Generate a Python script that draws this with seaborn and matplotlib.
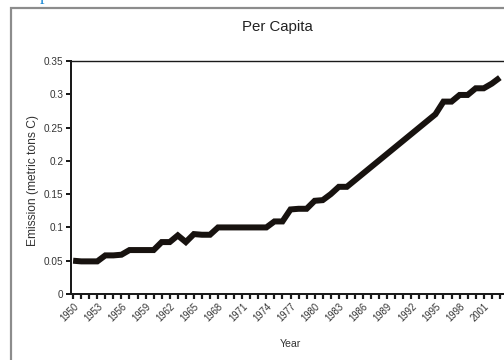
import matplotlib
matplotlib.use("Agg")
import matplotlib.pyplot as plt
from matplotlib.patches import Rectangle
from matplotlib.ticker import FixedLocator, FixedFormatter
import seaborn as sns
import pandas as pd

# Per-capita emission series (metric tons of carbon per person)
years = [1950, 1951, 1952, 1953, 1954, 1955, 1956, 1957, 1958, 1959,
         1960, 1961, 1962, 1963, 1964, 1965, 1966, 1967, 1968, 1969,
         1970, 1971, 1972, 1973, 1974, 1975, 1976, 1977, 1978, 1979,
         1980, 1981, 1982, 1983, 1984, 1995, 1996, 1997, 1998, 1999,
         2000, 2001, 2002, 2003]
emission = [0.050, 0.049, 0.049, 0.049, 0.058, 0.058, 0.059, 0.066, 0.066, 0.066,
            0.066, 0.078, 0.078, 0.088, 0.078, 0.090, 0.089, 0.089, 0.100, 0.100,
            0.100, 0.100, 0.100, 0.100, 0.100, 0.109, 0.109, 0.127, 0.128, 0.128,
            0.140, 0.141, 0.150, 0.161, 0.161, 0.270, 0.289, 0.289, 0.299, 0.299,
            0.309, 0.309, 0.316, 0.325]

tick_years = list(range(1950, 2007))
label_years = list(range(1950, 2002, 3))
y_ticks = [0, 0.05, 0.1, 0.15, 0.2, 0.25, 0.3, 0.35]
y_labels = ["0", "0.05", "0.1", "0.15", "0.2", "0.25", "0.3", "0.35"]

df = pd.DataFrame({"Year": years, "Emission": emission})

sns.set_theme(style="white")
plt.rcParams["font.family"] = ["Liberation Sans", "DejaVu Sans"]

W, H = 504, 360
fig = plt.figure(figsize=(W / 72, H / 72), dpi=72)
fig.patch.set_facecolor("white")

# outer gray frame
fig.patches.append(Rectangle((11 / W, -0.2), 1.5, (H - 8) / H + 0.2,
                             transform=fig.transFigure, fill=False,
                             edgecolor="#8c8c8c", linewidth=2.2, zorder=0))

# partial blue heading glyph at the very top
fig.text(44 / W, 1 + 0.5 / H, "p", color="#1b8ad6", fontsize=18,
         family=["Liberation Serif", "DejaVu Serif"], ha="center", va="baseline")

left_px, right_px, top_px, bot_px = 70.7, 524.0, 61.0, 294.0
ax = fig.add_axes([left_px / W, (H - bot_px) / H,
                   (right_px - left_px) / W, (bot_px - top_px) / H])

sns.lineplot(data=df, x="Year", y="Emission", ax=ax, color="#17120f",
             linewidth=6, solid_capstyle="butt", solid_joinstyle="miter")

ax.set_xlim(1949.7, 2006.0)
ax.set_ylim(0, 0.35)

ax.xaxis.set_major_locator(FixedLocator(tick_years))
ax.xaxis.set_major_formatter(FixedFormatter(
    [str(y) if y in label_years else "" for y in tick_years]))
ax.yaxis.set_major_locator(FixedLocator(y_ticks))
ax.yaxis.set_major_formatter(FixedFormatter(y_labels))

ax.tick_params(axis="x", direction="out", length=5, width=2.2, color="#1a1a1a",
               labelsize=9.5, labelcolor="#333333", pad=2, bottom=True)
ax.tick_params(axis="y", direction="out", length=5, width=2, color="#1a1a1a",
               labelsize=10, labelcolor="#333333", pad=2, left=True)
for lab in ax.get_xticklabels():
    lab.set_rotation(45)
    lab.set_ha("right")
    lab.set_rotation_mode("anchor")

for side in ["left", "bottom"]:
    ax.spines[side].set_linewidth(2)
    ax.spines[side].set_color("#1a1a1a")
ax.spines["top"].set_linewidth(1.4)
ax.spines["top"].set_color("#1a1a1a")
ax.spines["right"].set_visible(False)
ax.grid(False)

ax.set_xlabel("")
ax.set_ylabel("")
fig.text(290 / W, 1 - 344 / H, "Year", fontsize=10.5, color="#333333",
         ha="center", va="center")
fig.text(33 / W, 1 - 180 / H, "Emission (metric tons C)", fontsize=12,
         color="#333333", rotation=90, ha="center", va="center")
fig.text(277 / W, 1 - 27 / H, "Per Capita", fontsize=15, color="#222222",
         ha="center", va="center")

fig.savefig("out.png", dpi=72, facecolor="white")
